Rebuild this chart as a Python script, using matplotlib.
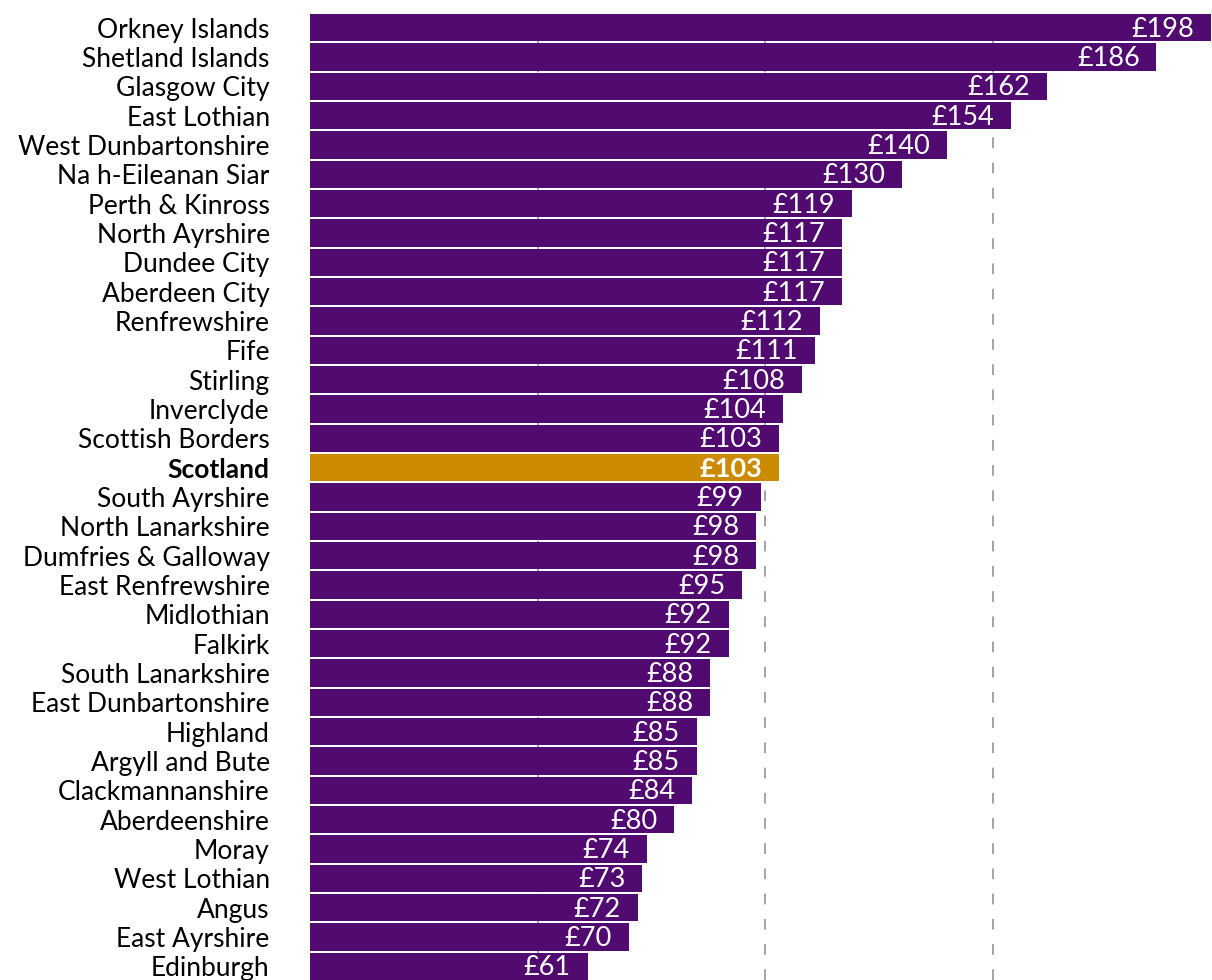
import matplotlib.pyplot as plt

areas = ["Orkney Islands", "Shetland Islands", "Glasgow City", "East Lothian",
         "West Dunbartonshire", "Na h-Eileanan Siar", "Perth & Kinross",
         "North Ayrshire", "Dundee City", "Aberdeen City", "Renfrewshire", "Fife",
         "Stirling", "Inverclyde", "Scottish Borders", "Scotland", "South Ayrshire",
         "North Lanarkshire", "Dumfries & Galloway", "East Renfrewshire",
         "Midlothian", "Falkirk", "South Lanarkshire", "East Dunbartonshire",
         "Highland", "Argyll and Bute", "Clackmannanshire", "Aberdeenshire",
         "Moray", "West Lothian", "Angus", "East Ayrshire", "Edinburgh"]
values = [198, 186, 162, 154, 140, 130, 119, 117, 117, 117, 112, 111, 108, 104,
          103, 103, 99, 98, 98, 95, 92, 92, 88, 88, 85, 85, 84, 80, 74, 73, 72,
          70, 61]
gridlines = [50, 100, 150]

purple = "#500a70"
gold = "#cc8a00"

plt.rcParams['font.family'] = ['Lato', 'DejaVu Sans']

fig = plt.figure(figsize=(12.12, 9.8), dpi=100)
ax = fig.add_axes([310 / 1212, 0, 1 - 310 / 1212, 966 / 980])

colors = [gold if a == "Scotland" else purple for a in areas]
ypos = list(range(len(areas)))
ax.barh(ypos, values, height=0.93, color=colors, zorder=2)

for g in gridlines:
    ax.axvline(g, color="#8a8a8a", lw=1.1, ls=(0, (7, 9.5)), zorder=1)

for y, v, a in zip(ypos, values, areas):
    bold = a == "Scotland"
    ax.text(v - 3.7, y + 0.05, "£%d" % v, ha="right", va="center", color="white",
            fontsize=19.5, fontweight="bold" if bold else "normal", zorder=3)

ax.set_xlim(0, 198.2)
ax.set_ylim(len(areas) - 1 + 0.465, -0.465)
ax.set_yticks(ypos)
ax.set_yticklabels(areas, fontsize=19)
for lbl in ax.get_yticklabels():
    if lbl.get_text() == "Scotland":
        lbl.set_fontweight("bold")
ax.tick_params(axis="y", length=0, pad=29)
ax.set_xticks([])
for s in ax.spines.values():
    s.set_visible(False)

fig.savefig("out.png", dpi=100)
